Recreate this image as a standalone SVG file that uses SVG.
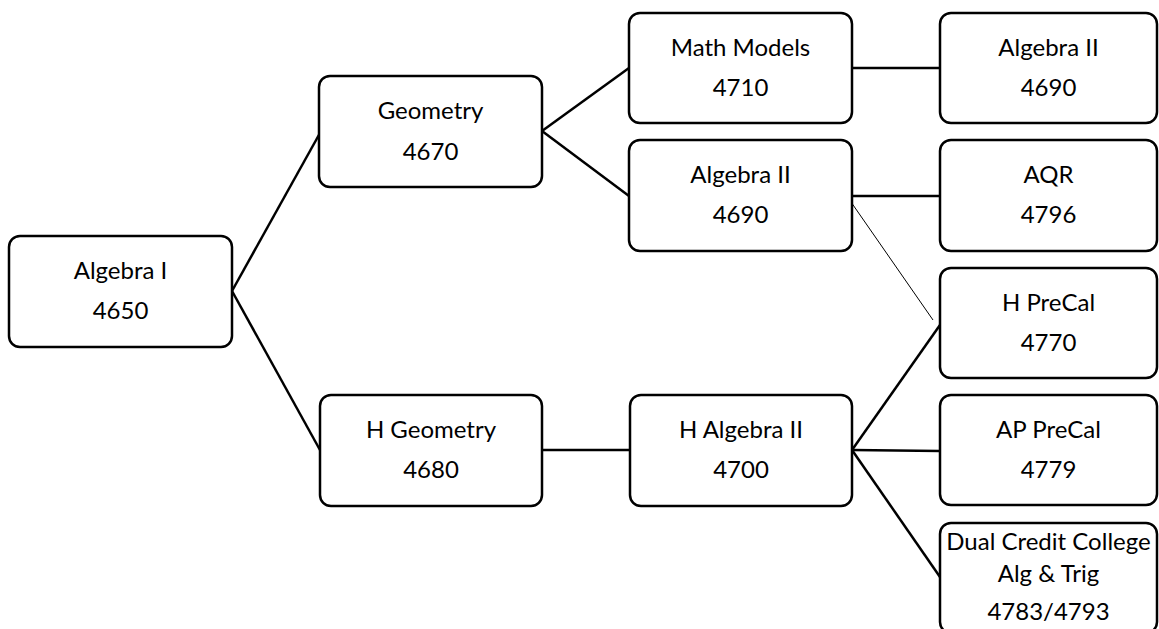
<svg xmlns="http://www.w3.org/2000/svg" width="1159" height="629" viewBox="0 0 1159 629">
<style>
.box{fill:#fff;stroke:#000;stroke-width:2.5}
.t{font-family:Lato,"Liberation Sans",sans-serif;font-size:24px;fill:#000;text-anchor:middle}
.c{stroke:#000;stroke-width:2.5;fill:none}
.thin{stroke:#000;stroke-width:1;fill:none}
</style>
<rect width="1159" height="629" fill="#fff"/>
<g id="connectors">
<line class="c" x1="232" y1="291" x2="320" y2="133"/>
<line class="c" x1="232" y1="291" x2="320" y2="450"/>
<line class="c" x1="542" y1="131" x2="629" y2="68"/>
<line class="c" x1="542" y1="131" x2="629" y2="196"/>
<line class="c" x1="852" y1="68" x2="940" y2="68"/>
<line class="c" x1="852" y1="196" x2="940" y2="196"/>
<line class="thin" x1="851" y1="202" x2="933" y2="320"/>
<line class="c" x1="542" y1="450" x2="630" y2="450"/>
<line class="c" x1="852" y1="450" x2="940" y2="325"/>
<line class="c" x1="852" y1="450" x2="940" y2="451"/>
<line class="c" x1="852" y1="450" x2="940" y2="577"/>
</g>
<g id="alg1"><rect class="box" x="9" y="236" width="223" height="111" rx="11"/><text class="t" x="120.5" y="279">Algebra I</text><text class="t" x="120.5" y="319">4650</text></g>
<g id="geo"><rect class="box" x="319" y="76" width="223" height="111" rx="11"/><text class="t" x="430.5" y="119">Geometry</text><text class="t" x="430.5" y="160">4670</text></g>
<g id="hgeo"><rect class="box" x="320" y="395" width="222" height="111" rx="11"/><text class="t" x="431" y="438">H Geometry</text><text class="t" x="431" y="478">4680</text></g>
<g id="mm"><rect class="box" x="629" y="13" width="223" height="110" rx="11"/><text class="t" x="740.5" y="56">Math Models</text><text class="t" x="740.5" y="96">4710</text></g>
<g id="alg2a"><rect class="box" x="629" y="140" width="223" height="111" rx="11"/><text class="t" x="740.5" y="183">Algebra II</text><text class="t" x="740.5" y="223">4690</text></g>
<g id="halg2"><rect class="box" x="630" y="395" width="222" height="111" rx="11"/><text class="t" x="741" y="438">H Algebra II</text><text class="t" x="741" y="478">4700</text></g>
<g id="alg2b"><rect class="box" x="940" y="13" width="217" height="110" rx="11"/><text class="t" x="1048.5" y="56">Algebra II</text><text class="t" x="1048.5" y="96">4690</text></g>
<g id="aqr"><rect class="box" x="940" y="140" width="217" height="111" rx="11"/><text class="t" x="1048.5" y="183">AQR</text><text class="t" x="1048.5" y="223">4796</text></g>
<g id="hprecal"><rect class="box" x="940" y="268" width="217" height="110" rx="11"/><text class="t" x="1048.5" y="311">H PreCal</text><text class="t" x="1048.5" y="351">4770</text></g>
<g id="appre"><rect class="box" x="940" y="395" width="217" height="110" rx="11"/><text class="t" x="1048.5" y="438">AP PreCal</text><text class="t" x="1048.5" y="478">4779</text></g>
<g id="dual"><rect class="box" x="940" y="523" width="217" height="110" rx="11"/><text class="t" x="1048.5" y="550">Dual Credit College</text><text class="t" x="1048.5" y="582">Alg &amp; Trig</text><text class="t" x="1048.5" y="620">4783/4793</text></g>
</svg>
